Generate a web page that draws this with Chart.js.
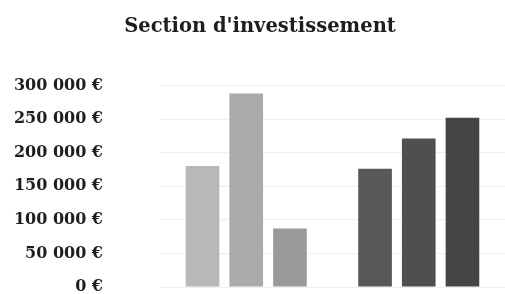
<!DOCTYPE html>
<html>
<head>
<meta charset="utf-8">
<script src="https://cdn.jsdelivr.net/npm/chart.js@4"></script>
<style>
  html, body { margin: 0; padding: 0; background: #fff; }
</style>
</head>
<body>
<canvas id="chart" width="505" height="294"></canvas>
<script>
// ------------------ Data ------------------
const categories = ['', ''];
const serieA = [180000, 176000];
const serieB = [288000, 221000];
const serieC = [87000, 252000];
const tickLabels = ['0 €', '50 000 €', '100 000 €', '150 000 €', '200 000 €', '250 000 €', '300 000 €'];

const colorsA = ['#b8b8b8', '#585858'];
const colorsB = ['#aaaaaa', '#4f4f4f'];
const colorsC = ['#9a9a9a', '#454545'];

const serif = '"DejaVu Serif", "Liberation Serif", serif';

function makeDataset(values, colors) {
    return {
        data: values,
        backgroundColor: colors,
        borderWidth: 0,
        categoryPercentage: 0.76,
        barPercentage: 0.77
    };
}

new Chart(document.getElementById('chart').getContext('2d'), {
    type: 'bar',
    data: {
        labels: categories,
        datasets: [
            makeDataset(serieA, colorsA),
            makeDataset(serieB, colorsB),
            makeDataset(serieC, colorsC)
        ]
    },
    options: {
        responsive: false,
        animation: false,
        layout: { padding: { left: 15, right: 0, top: 0, bottom: 7 } },
        plugins: {
            legend: { display: false },
            tooltip: { enabled: false },
            title: {
                display: true,
                text: "Section d'investissement",
                color: '#1e1e1e',
                font: { family: serif, size: 19.5, weight: 'bold' },
                padding: { top: 15, bottom: 47 }
            }
        },
        scales: {
            x: {
                grid: { display: false, drawTicks: false },
                border: { display: false },
                ticks: { display: false }
            },
            y: {
                min: 0,
                max: 300000,
                grid: { color: '#efefef', drawTicks: true, tickLength: 55, tickColor: 'rgba(0,0,0,0)' },
                border: { display: false },
                ticks: {
                    stepSize: 50000,
                    padding: 2,
                    color: '#1e1e1e',
                    font: { family: serif, size: 16, weight: 'bold' },
                    callback: function(value) {
                        return tickLabels[Math.round(value / 50000)];
                    }
                },
                // keep the label column fixed and stop labels from pushing the plot area
                afterFit: function(scale) {
                    scale.width = 145;
                    scale.paddingTop = 0;
                    scale.paddingBottom = 0;
                }
            }
        }
    }
});
</script>
</body>
</html>
